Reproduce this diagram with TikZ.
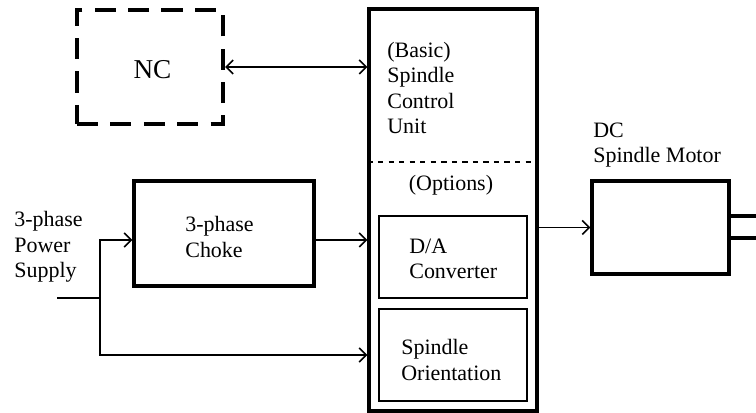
\documentclass[tikz,border=0pt]{standalone}
\usepackage{fontspec}
\setmainfont{Liberation Serif}
\usetikzlibrary{shapes,arrows,arrows.meta,positioning,calc}

\begin{document}
\begin{tikzpicture}[
    unit/.style={rectangle, draw, line width=1.8pt},
    option/.style={rectangle, draw, line width=1.1pt},
    ncbox/.style={rectangle, draw, line width=2.3pt, dash pattern=on 12pt off 7pt},
    label/.style={align=left, font=\fontsize{12.5}{14.6}\selectfont, inner sep=0pt},
    arrow/.style={->, >={Straight Barb[length=4pt,width=8pt]}, line width=0.9pt},
    wire/.style={line width=0.9pt}
]
\useasboundingbox (0,0) rectangle (15.12,8.26);

% NC
\node[ncbox, minimum width=2.92cm, minimum height=2.28cm] (nc) at (3.0,6.92) {};
\node[font=\fontsize{15.5}{18}\selectfont] (nctext) at (3.05,6.86) {NC};

% Spindle control unit
\node[unit, minimum width=3.36cm, minimum height=8.04cm] (scu) at (9.06,4.06) {};
\draw[dashed, line width=0.9pt] (scu.west |- 0,5.02) coordinate (split) -- (scu.east |- 0,5.02);
\node[label, anchor=west] (basic) at (7.74,6.50) {(Basic)\\Spindle\\Control\\Unit};
\node[label] (options) at (9.02,4.56) {(Options)};

% Options
\node[option, minimum width=2.96cm, minimum height=1.64cm] (da) at (9.06,3.12) {};
\node[label, anchor=west] (datext) at (8.18,3.08) {D/A\\Converter};
\node[option, minimum width=2.96cm, minimum height=1.84cm] (orient) at (9.06,1.16) {};
\node[label, anchor=west] (orienttext) at (8.02,1.06) {Spindle\\Orientation};

% Motor
\node[unit, minimum width=2.74cm, minimum height=1.86cm] (motor) at (13.21,3.71) {};
\node[label, anchor=west] (motortext) at (11.86,5.36) {DC\\Spindle Motor};
\coordinate (shaft1) at (15.2,3.94);
\coordinate (shaft2) at (15.2,3.50);
\draw[line width=1.8pt] (motor.east |- shaft1) -- (shaft1);
\draw[line width=1.8pt] (motor.east |- shaft2) -- (shaft2);

% Choke
\node[unit, minimum width=3.6cm, minimum height=2.1cm] (choke) at (4.48,3.59) {};
\node[label, anchor=west] (choketext) at (3.70,3.52) {3-phase\\Choke};

% Power supply
\node[label, anchor=west] (supply) at (0.28,3.32) {3-phase\\Power\\Supply};
\coordinate (in) at (1.14,2.30);
\coordinate (tap) at (2.0,2.30);

% Arrows
\draw[arrow, <->] (nc.east) -- (scu.west |- nc.east);
\draw[wire] (in) -- (tap);
\draw[arrow] (tap) -- (2.0,3.46) -- (choke.west |- 0,3.46);
\draw[arrow] (tap) |- (scu.west |- orient.west);
\draw[arrow] (choke.east |- 0,3.46) -- (scu.west |- 0,3.46);
\draw[arrow] (scu.east |- motor.west) -- (motor.west);

\end{tikzpicture}
\end{document}
